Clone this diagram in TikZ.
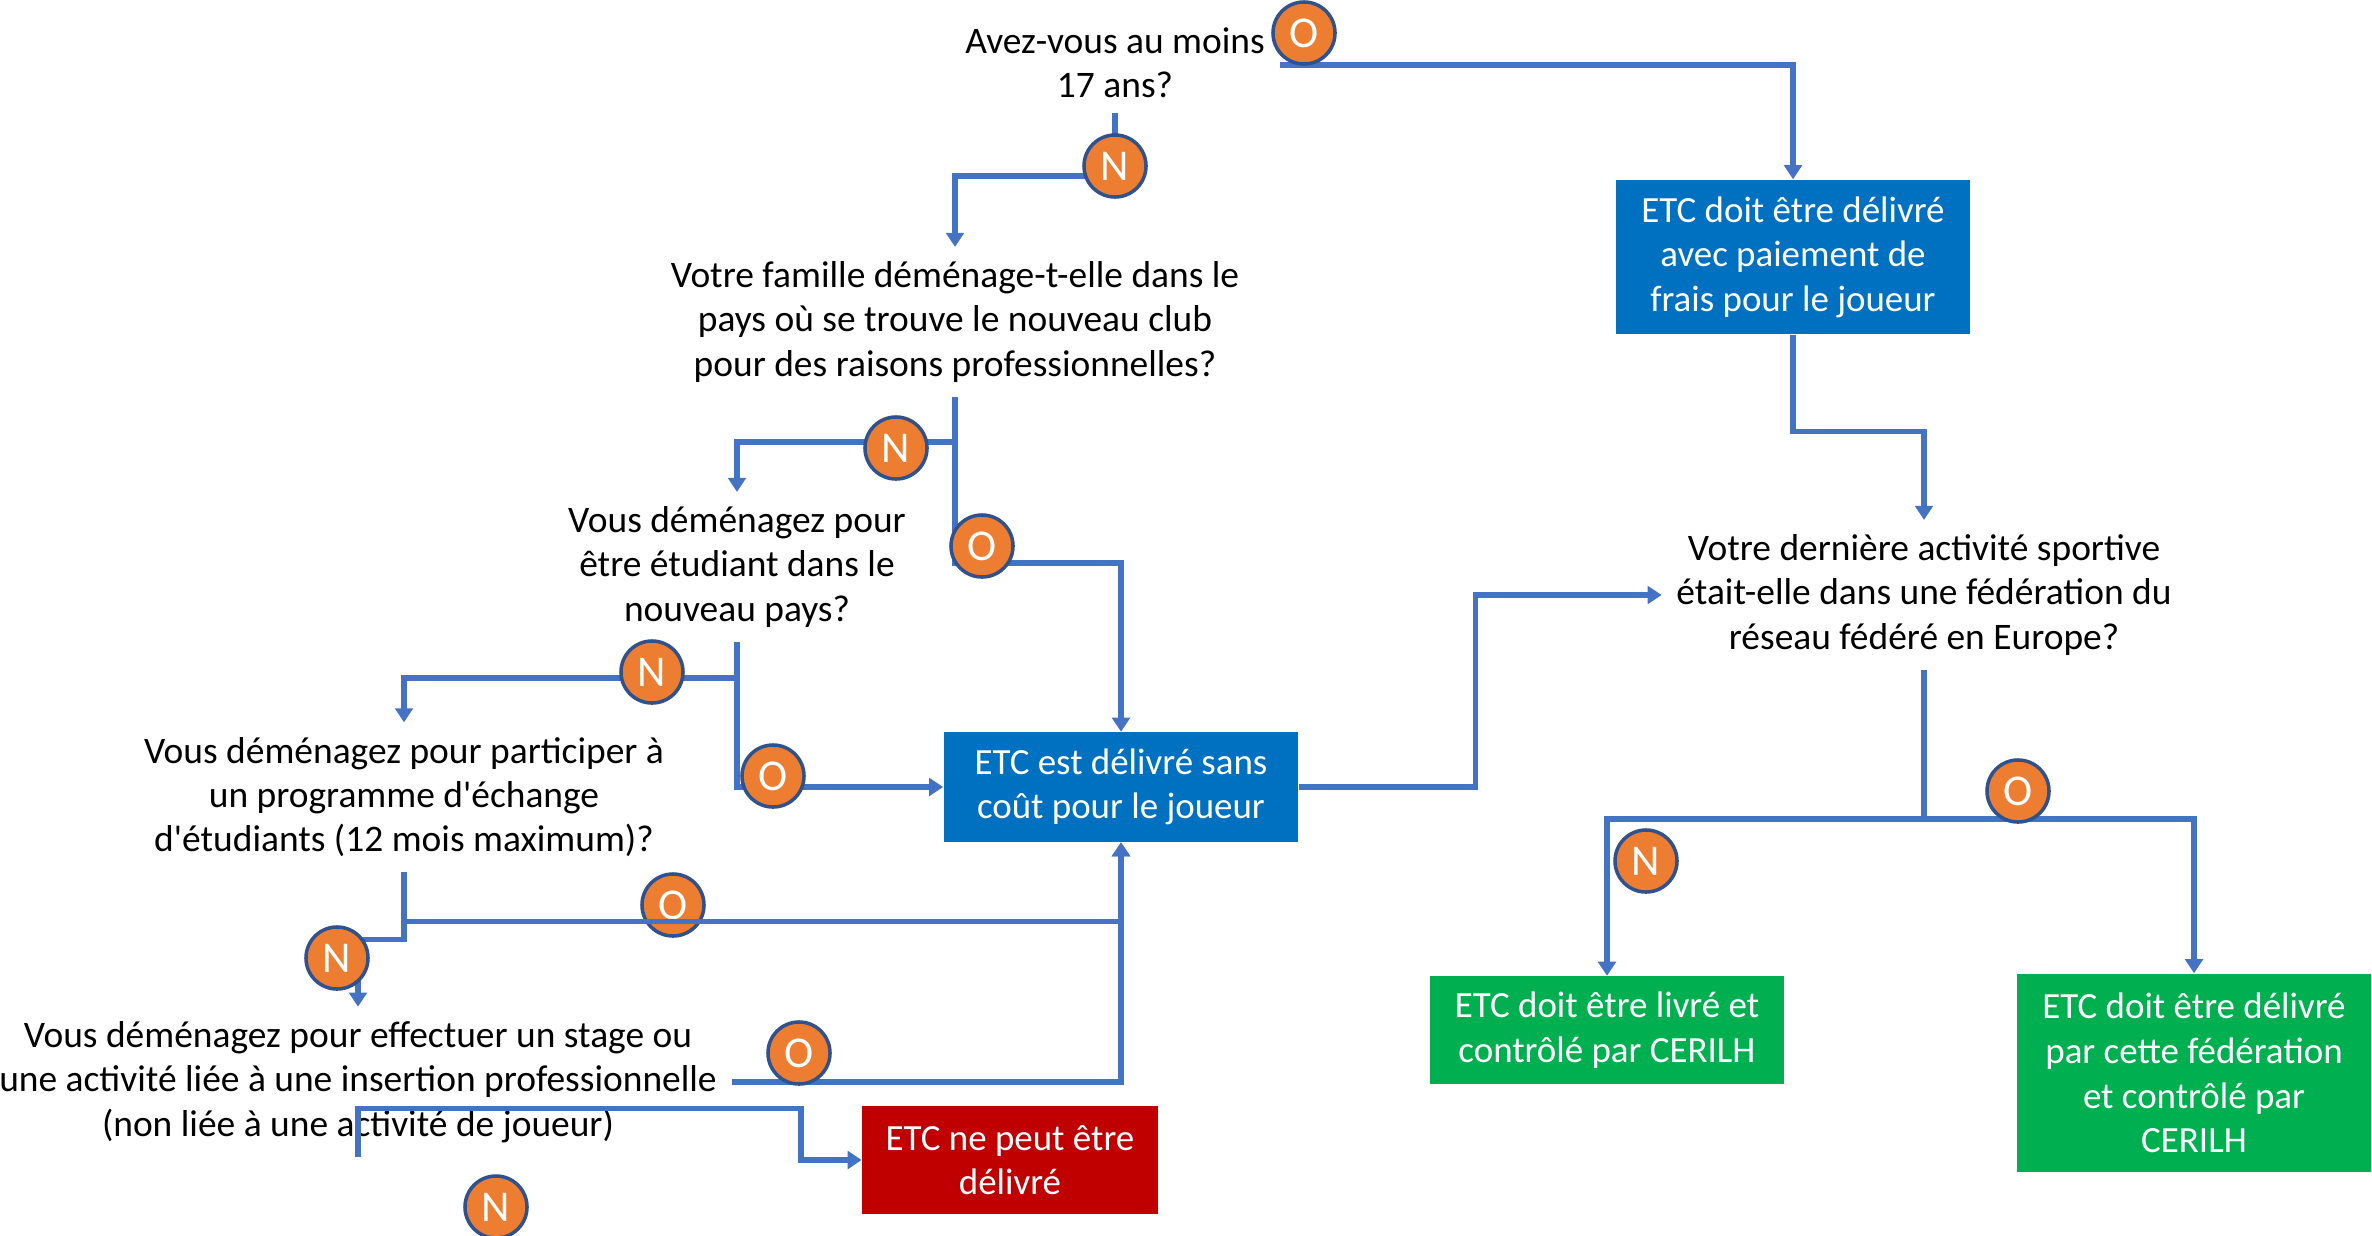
\documentclass[tikz,border=0pt]{standalone}
\usepackage{fontspec}
\setmainfont{Carlito}[Ligatures=TeXOff]
\usetikzlibrary{arrows.meta}
\definecolor{linkblue}{HTML}{4472C4}
\definecolor{boxblue}{HTML}{0070C0}
\definecolor{boxred}{HTML}{C00000}
\definecolor{boxgreen}{HTML}{00B050}
\definecolor{badgefill}{HTML}{ED7D31}
\definecolor{badgeline}{HTML}{2F528F}
\tikzset{
    question/.style={align=center, inner sep=4pt, font=\fontsize{10.65}{12.6}\selectfont},
    result/.style={align=center, text=white, inner sep=0pt, font=\fontsize{10.5}{12.7}\selectfont},
    badge/.style={circle, fill=badgefill, draw=badgeline, line width=1pt, text=white,
        minimum size=0.62cm, inner sep=0pt, font=\fontsize{12.5}{14}\selectfont},
    link/.style={draw=linkblue, line width=1.5pt},
    arr/.style={link, -{Triangle[width=5pt,length=4pt]}}
}
\begin{document}
\begin{tikzpicture}[x=0.01cm, y=-0.01cm]
        \useasboundingbox (0,0) rectangle (2372,1236);
        %% questions
        \node[question] (q1) at (1115,63) {Avez-vous au moins\\17 ans?};
        \node[question] (q2) at (955,322) {Votre famille déménage-t-elle dans le\\pays où se trouve le nouveau club\\pour des raisons professionnelles?};
        \node[question] (q3) at (737,567) {Vous déménagez pour\\être étudiant dans le\\nouveau pays?};
        \node[question] (q4) at (404,797) {Vous déménagez pour participer à\\un programme d'échange\\d'étudiants (12 mois maximum)?};
        \node[question] (q5) at (358,1082) {Vous déménagez pour effectuer un stage ou\\une activité liée à une insertion professionnelle\\(non liée à une activité de joueur)};
        \node[question] (q6) at (1924,595) {Votre dernière activité sportive\\était-elle dans une fédération du\\réseau fédéré en Europe?};
        %% results
        \node[result, fill=boxblue, minimum width=3.53cm, minimum height=1.54cm] (payant) at (1793,257) {ETC doit être délivré\\avec paiement de\\frais pour le joueur};
        \node[result, fill=boxblue, minimum width=3.54cm, minimum height=1.09cm] (gratuit) at (1121,787) {ETC est délivré sans\\coût pour le joueur};
        \node[result, fill=boxred, minimum width=2.95cm, minimum height=1.07cm] (refus) at (1010,1160) {ETC ne peut être\\délivré};
        \node[result, fill=boxgreen, minimum width=3.53cm, minimum height=1.07cm] (livre) at (1607,1030) {ETC doit être livré et\\contrôlé par CERILH};
        \node[result, fill=boxgreen, minimum width=3.53cm, minimum height=1.98cm] (federe) at (2194,1073) {ETC doit être délivré\\par cette fédération\\et contrôlé par\\CERILH};
        %% connectors
        \draw[arr] ([yshift=-0.6pt]q1.east) -| (payant.north);
        \draw[arr] (q1.south) -- ++(0,63) -| (q2.north);
        \draw[arr] (q2.south) -- ++(0,166) -| (gratuit.north);
        \draw[arr] (q2.south) ++(0,45) -| (q3.north);
        \draw[arr] (q3.south) |- (gratuit.west);
        \draw[arr] (q3.south) ++(0,36) -| (q4.north);
        \draw[arr] (q4.south) ++(0,50) -- ++(0,18) -| (q5.north);
        \draw[arr] (q5.east) -| (gratuit.south);
        \draw[arr] (q5.south) -- ++(0,-49) -- ++(443,0) |- (refus.west);
        \draw[arr] (gratuit.east) -- ++(177,0) |- (q6.west);
        \draw[arr] (payant.south) -- ++(0,97) -| (q6.north);
        \draw[arr] (q6.south) -- ++(0,149) -| (livre.north);
        \draw[arr] (q6.south) -- ++(0,149) -| (federe.north);
        %% badges
        \foreach \n/\x/\y/\l in {o1/1304/33/O, n1/1115/166/N, n2/896/448/N, o2/982/546/O,
            n3/652/672/N, o3/773/776/O, o4/673/905/O, n4/337/958/N,
            o5/799/1053/O, n5/496/1207/N, o6/2018/791/O, n6/1646/861/N}
            \node[badge] (\n) at (\x,\y) {\l};
        %% this one runs over its badge
        \draw[arr] (q4.south) -- ++(0,50) -| (gratuit.south);
\end{tikzpicture}
\end{document}
